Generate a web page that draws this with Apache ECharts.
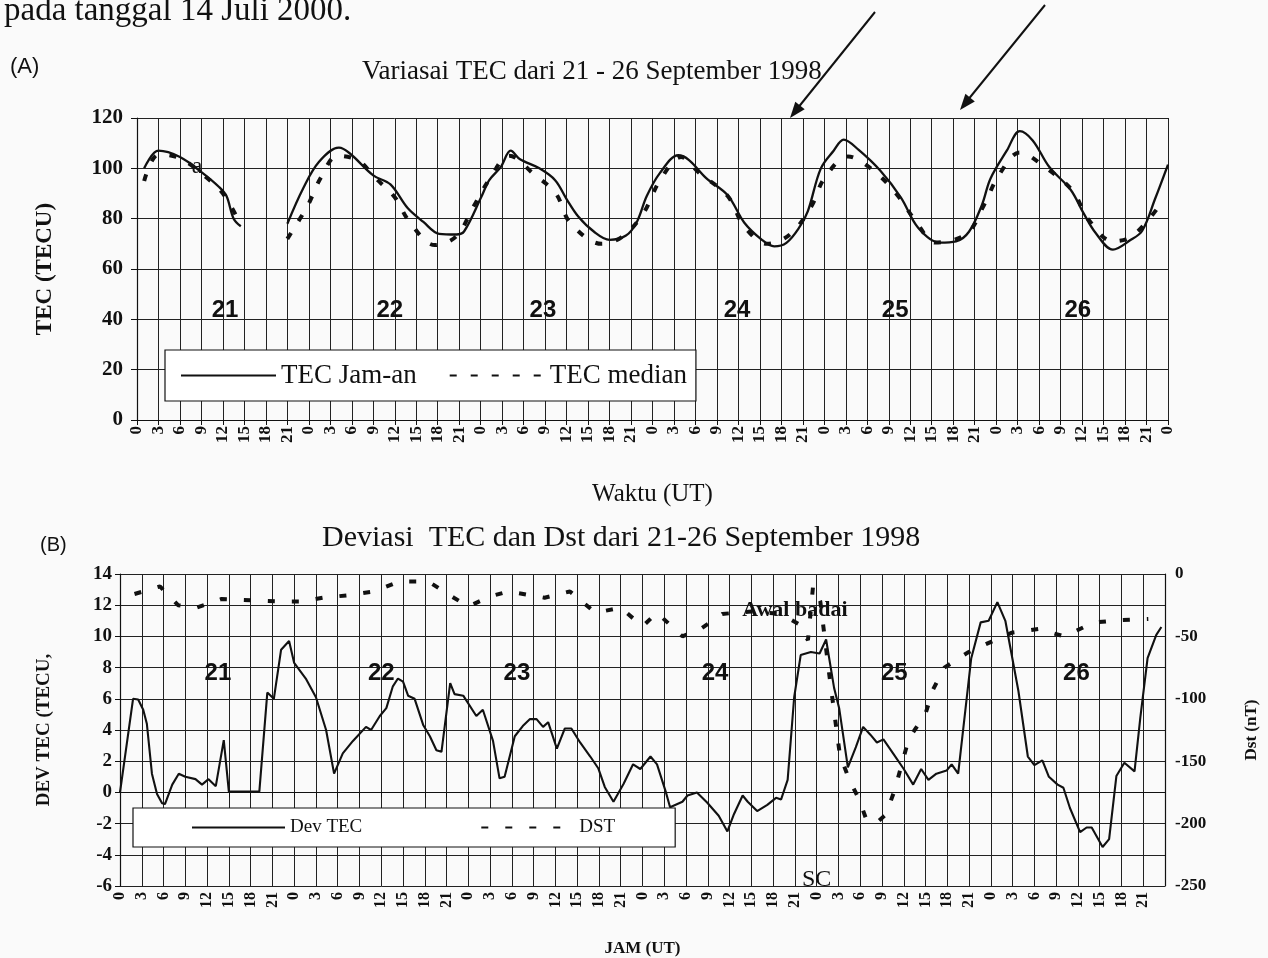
<!DOCTYPE html>
<html><head><meta charset="utf-8">
<script src="https://cdn.jsdelivr.net/npm/echarts@6/dist/echarts.min.js"></script>
<style>html,body{margin:0;padding:0;background:#fafafa}#c{width:1268px;height:958px}</style>
</head><body><div id="c"></div>
<script>
// ---------- Chart A: TEC (hour from 21 Sep 00 UT) ----------
const tecHours = [1,3,6,9,11.5,12.5,13.5,14.5,17,21,23.2,25.4,28.2,29.7,33,35.4,37.8,40,42.2,44.6,45.7,48.1,49.2,50.8,52.2,53.5,56.2,58.4,60,61.6,63.8,66,68.3,69.8,71.2,73,75.6,77.1,79.5,82.5,84.8,87.2,89,90.7,92.5,93.7,95.5,97.3,98.7,100.8,103.8,106.7,109.1,112.1,114.4,116.2,118,119.2,121.5,123.3,125.1,127.4,130.4,132.2,133.9,136.3,138.7,140.4,142.2,144];
const tecJam   = [100,107,104.5,98.5,92.5,89,80,77,null,78,92,102.5,108.2,106,97.2,93.6,84.2,78.7,74,73.7,75,88.7,95.3,100.5,107,103.6,100,95.3,87.8,81,74.9,71.6,73.3,78.6,89,98,105.2,103.3,96.1,89.3,78.5,71.8,69,70.4,76.5,83,99.9,107,111.4,107.3,99.1,88.4,76.4,70.5,71,74.8,85.4,95.9,107.1,114.8,111.1,100.6,91.5,82.2,74.3,67.7,71.4,75.2,87.9,101.5];
const medHours = [1,3,6,9,12,14.5,17,21,23.8,25.7,28,31,33,36,38,41.6,44.6,47,49.2,52,55.5,58.5,60.5,64.9,67.7,70.7,73,76,78.6,82.5,84.8,88,91.2,94.2,96,99.3,102.9,106.1,109,111.5,115.9,118.3,120.4,123.3,126.8,130.7,132.8,136.3,139,142.5];
const tecMedian = [95,105.5,104,98,90,77.5,null,72,85,96.4,105,103,97,88.5,79,69.5,73,84.8,95.5,105,97.5,90,78.4,70,72.7,82,95,104.5,98,89,77,70,73.7,85,96,104.7,99,89.7,78,70.5,74,85.4,97.4,106.3,100.5,91,80,71,73,84];
const dayNames = ['21','22','23','24','25','26'];
const dayHoursA = [12.3,35.3,56.7,83.8,105.9,131.4];
const dayHoursB = [13.5,36,54.7,82,106.7,131.8];

// ---------- Chart B: Dev TEC and Dst ----------
const devHours = [0,1.8,2.5,3.2,3.7,4.4,5.1,5.8,6.2,7.2,8.1,9,10.4,11.3,12.2,13.2,14.3,15,19.2,20.3,21.2,22.2,23.3,24,25.6,27,28.4,29.5,30.7,32.1,33.9,34.6,35.8,36.7,37.6,38.3,39,39.7,40.6,41.8,42.7,43.6,44.3,45.5,46.1,47.3,49.1,50,51.4,52.3,53,54.4,55.5,56.5,57.4,58.3,59,60.2,61.3,62.2,63.4,64.8,65.9,66.8,68,69.4,70.7,71.7,73.1,74,75.2,75.8,77.5,78.2,79.5,80.9,82.5,83.7,84.6,85.8,86.5,87.8,89.2,90.4,91.1,92,92.9,93.8,95.2,96.4,97.3,98.4,99.1,100.3,101.4,102.4,103.4,104.3,105.2,106.6,108,109.3,110.4,111.4,112.5,113.9,114.6,115.5,117.3,118.6,119.7,120.9,122,123.8,125.1,126,127.1,128,129.2,130,130.9,132.3,133.2,133.9,135.4,136.3,137.3,138.4,139.8,140.6,141.6,142.8,143.5];
const devTec   = [0,6,5.95,5.3,4.4,1.2,-0.1,-0.7,-0.75,0.5,1.2,1,0.85,0.5,0.85,0.4,3.35,0.05,0.05,6.4,6,9.15,9.7,8.3,7.3,6.1,4,1.2,2.5,3.3,4.2,4,4.9,5.4,6.8,7.3,7.1,6.2,6,4.3,3.6,2.7,2.6,7,6.3,6.2,4.9,5.3,3.3,0.9,1,3.6,4.25,4.7,4.7,4.2,4.5,2.8,4.1,4.1,3.2,2.3,1.55,0.35,-0.6,0.55,1.8,1.5,2.3,1.8,0.05,-0.95,-0.6,-0.2,0,-0.65,-1.5,-2.5,-1.4,-0.2,-0.6,-1.2,-0.8,-0.35,-0.45,0.8,6.1,8.8,9,8.9,9.8,6.7,5.4,1.6,2.9,4.2,3.7,3.2,3.4,2.45,1.5,0.5,1.5,0.8,1.2,1.4,1.8,1.2,8.6,10.9,11,12.2,11,6.5,2.3,1.75,2.05,1,0.5,0.3,-1,-2.55,-2.25,-2.25,-3.5,-3,1.05,1.9,1.35,4.8,8.6,10.1,10.6];
const dstHours = [2,5.5,8,10.5,14,18,22,25,28,31.5,35,38.5,42.5,46,48,51,53.5,58.5,62,65.5,69,72,74,77.5,80,83,87,91,93.5,94.8,95.5,96.5,97.7,98.4,99.2,100.5,101.8,102.8,104.1,105.5,106.7,108.7,111,112,113.6,116.8,119.4,122.9,126.6,130.1,134.1,137.6,141.7];
const dstValues = [-16,-10,-25,-27,-20,-21,-22,-22,-19,-17,-14,-6,-6,-19,-26,-18,-14,-19,-14,-31,-27,-42,-31,-50,-44,-32,-30,-32,-40,-53,-10,-22,-79,-110,-145,-165,-180,-196,-200,-193,-174,-132,-112,-93,-75,-63,-56,-47,-44,-50,-39,-37,-36];

const pairs = (xs, ys) => xs.map((x, i) => [x, ys[i] == null ? '-' : ys[i]]);
const serif = 'Liberation Serif';
const sans = 'Liberation Sans';
const ink = '#111';
const gridLine = {show: true, lineStyle: {color: '#222', width: 1}};
const txt = (family, weight, size) => ({fontFamily: family, fontWeight: weight, fontSize: size, color: ink, opacity: 1, textBorderWidth: 0});

const chart = echarts.init(document.getElementById('c'), null, {renderer: 'canvas'});
chart.setOption({
  backgroundColor: '#fafafa',
  animation: false,
  title: [
    {text: 'pada tanggal 14 Juli 2000.', left: 4, top: -5, padding: 0, textStyle: {fontFamily: serif, fontSize: 33, fontWeight: 'normal', color: ink}},
    {text: '(A)', left: 10, top: 56, padding: 0, textStyle: {fontFamily: sans, fontSize: 22, fontWeight: 'normal', color: ink}},
    {text: 'Variasai TEC dari 21 - 26 September 1998', left: 362, top: 58, padding: 0, textStyle: {fontFamily: serif, fontSize: 27, fontWeight: 'normal', color: ink}},
    {text: '(B)', left: 40, top: 535, padding: 0, textStyle: {fontFamily: sans, fontSize: 20, fontWeight: 'normal', color: ink}},
    {text: 'Deviasi  TEC dan Dst dari 21-26 September 1998', left: 322, top: 523, padding: 0, textStyle: {fontFamily: serif, fontSize: 30, fontWeight: 'normal', color: ink}}
  ],
  grid: [
    {left: 137, right: 100, top: 118, height: 302},
    {left: 120, right: 103, top: 574, height: 312}
  ],
  legend: [
    {data: ['TEC Jam-an', 'TEC median'], left: 165, top: 350, selectedMode: false,
     itemWidth: 95, itemHeight: 14, itemGap: 32, padding: [12, 9, 12, 15],
     itemStyle: {opacity: 0},
     backgroundColor: '#fff', borderColor: ink, borderWidth: 1.2,
     textStyle: {fontFamily: serif, fontSize: 27, color: ink}},
    {data: ['Dev TEC', 'DST'], left: 133, top: 808, selectedMode: false,
     itemWidth: 93, itemHeight: 12, itemGap: 118, padding: [10, 60, 10, 58],
     itemStyle: {opacity: 0},
     backgroundColor: '#fff', borderColor: ink, borderWidth: 1.2,
     textStyle: {fontFamily: serif, fontSize: 19, color: ink}}
  ],
  xAxis: [
    {type: 'value', gridIndex: 0, min: 0, max: 144, interval: 3,
     name: 'Waktu (UT)', nameLocation: 'middle', nameGap: 62,
     nameTextStyle: {fontFamily: serif, fontSize: 25, color: ink},
     axisLine: {show: true, lineStyle: {color: ink, width: 1.2}},
     axisTick: {show: true, length: 5, lineStyle: {color: ink}},
     splitLine: gridLine,
     axisLabel: {rotate: 90, margin: 6, fontFamily: serif, fontWeight: 'bold', fontSize: 17, color: ink,
                 formatter: v => String(v % 24)}},
    {type: 'value', gridIndex: 1, min: 0, max: 144, interval: 3,
     name: 'JAM (UT)', nameLocation: 'middle', nameGap: 54,
     nameTextStyle: {fontFamily: serif, fontSize: 17, fontWeight: 'bold', color: ink},
     axisLine: {show: true, lineStyle: {color: ink, width: 1.2}},
     axisTick: {show: true, length: 5, lineStyle: {color: ink}},
     splitLine: gridLine,
     axisLabel: {rotate: 90, margin: 6, fontFamily: serif, fontWeight: 'bold', fontSize: 16, color: ink,
                 formatter: v => v >= 144 ? '' : String(v % 24)}}
  ],
  yAxis: [
    {type: 'value', gridIndex: 0, min: 0, max: 120, interval: 20,
     name: 'TEC (TECU)', nameLocation: 'middle', nameGap: 80, nameRotate: 90,
     nameTextStyle: {fontFamily: serif, fontSize: 23, fontWeight: 'bold', color: ink},
     axisLine: {show: true, lineStyle: {color: ink, width: 1.2}},
     axisTick: {show: true, length: 6, lineStyle: {color: ink}},
     splitLine: gridLine,
     axisLabel: {margin: 14, fontFamily: serif, fontWeight: 'bold', fontSize: 21, color: ink}},
    {type: 'value', gridIndex: 1, min: -6, max: 14, interval: 2,
     name: 'DEV TEC (TECU,', nameLocation: 'middle', nameGap: 66, nameRotate: 90,
     nameTextStyle: {fontFamily: serif, fontSize: 19, fontWeight: 'bold', color: ink},
     axisLine: {show: true, lineStyle: {color: ink, width: 1.2}},
     axisTick: {show: true, length: 5, lineStyle: {color: ink}},
     splitLine: gridLine,
     axisLabel: {margin: 8, fontFamily: serif, fontWeight: 'bold', fontSize: 19, color: ink}},
    {type: 'value', gridIndex: 1, position: 'right', min: -250, max: 0, interval: 50,
     name: 'Dst (nT)', nameLocation: 'middle', nameGap: 78, nameRotate: 90,
     nameTextStyle: {fontFamily: serif, fontSize: 17, fontWeight: 'bold', color: ink},
     axisLine: {show: true, lineStyle: {color: ink, width: 1.2}},
     axisTick: {show: false},
     splitLine: {show: false},
     axisLabel: {margin: 10, fontFamily: serif, fontWeight: 'bold', fontSize: 17, color: ink}}
  ],
  series: [
    {name: 'TEC Jam-an', type: 'line', xAxisIndex: 0, yAxisIndex: 0, data: pairs(tecHours, tecJam),
     smooth: 0.35, showSymbol: false, symbol: 'none', lineStyle: {color: ink, width: 2.3}, itemStyle: {color: ink}, z: 3},
    {name: 'TEC median', type: 'line', xAxisIndex: 0, yAxisIndex: 0, data: pairs(medHours, tecMedian),
     smooth: 0.35, showSymbol: false, symbol: 'none', lineStyle: {color: ink, width: 4, type: [7, 14]}, itemStyle: {color: ink}, z: 3},
    {name: 'Dev TEC', type: 'line', xAxisIndex: 1, yAxisIndex: 1, data: pairs(devHours, devTec),
     showSymbol: false, symbol: 'none', lineStyle: {color: ink, width: 2.1}, itemStyle: {color: ink}, z: 3},
    {name: 'DST', type: 'line', xAxisIndex: 1, yAxisIndex: 2, data: pairs(dstHours, dstValues),
     showSymbol: false, symbol: 'none', lineStyle: {color: ink, width: 4, type: [7, 17]}, itemStyle: {color: ink}, z: 3},
    {type: 'scatter', xAxisIndex: 0, yAxisIndex: 0, symbolSize: 0.01, itemStyle: {color: ink, opacity: 1}, silent: true, z: 5,
     label: Object.assign({show: true, position: [0, 0], align: 'center', verticalAlign: 'middle', formatter: '{b}'}, txt(sans, 'bold', 24)),
     data: dayNames.map((d, i) => ({name: d, value: [dayHoursA[i], 43.5]})).concat([
       {name: 'a', value: [8.4, 100.5], label: txt(serif, 'normal', 24)}])},
    {type: 'scatter', xAxisIndex: 1, yAxisIndex: 1, symbolSize: 0.01, itemStyle: {color: ink, opacity: 1}, silent: true, z: 5,
     label: Object.assign({show: true, position: [0, 0], align: 'center', verticalAlign: 'middle', formatter: '{b}'}, txt(sans, 'bold', 24)),
     data: dayNames.map((d, i) => ({name: d, value: [dayHoursB[i], 7.6]})).concat([
       {name: 'Awal badai', value: [93, 11.7], label: txt(serif, 'bold', 22)},
       {name: 'SC', value: [96, -5.6], label: txt(serif, 'normal', 24)}])}
  ],
  graphic: [
    {type: 'line', shape: {x1: 875, y1: 12, x2: 797, y2: 109}, style: {stroke: ink, lineWidth: 2}},
    {type: 'polygon', shape: {points: [[790, 118], [804.7, 109.3], [795.3, 101.7]]}, style: {fill: ink}},
    {type: 'line', shape: {x1: 1045, y1: 5, x2: 967, y2: 101}, style: {stroke: ink, lineWidth: 2}},
    {type: 'polygon', shape: {points: [[960, 110], [974.8, 101.4], [965.4, 93.8]]}, style: {fill: ink}}
  ]
});
</script></body></html>
